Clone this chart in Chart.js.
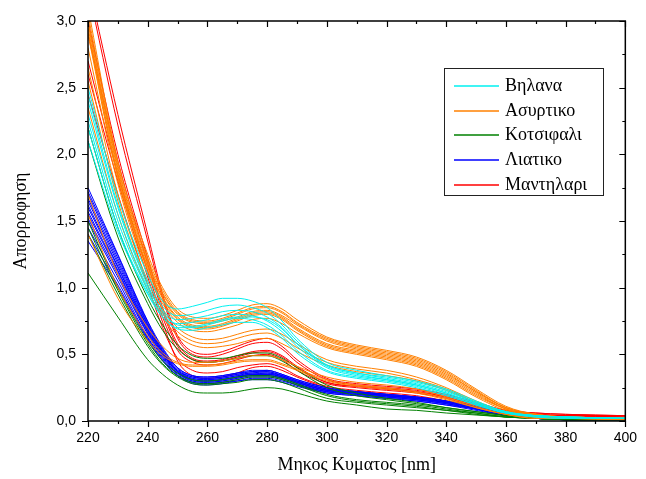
<!DOCTYPE html>
<html>
<head>
<meta charset="utf-8">
<script src="https://cdn.jsdelivr.net/npm/chart.js@4.4.0/dist/chart.umd.min.js"></script>
<style>
  html, body { margin: 0; padding: 0; background: #fff; }
  #wrap { width: 646px; height: 479px; }
</style>
</head>
<body>
<div id="wrap"><canvas id="myChart" width="646" height="479"></canvas></div>
<script>
// wavelengths (nm) where each spectrum was read
const wavelengths = [220,230,240,245,250,255,260,265,270,275,280,285,290,300,310,320,330,340,350,360,370,380,400];

// Vilana (cyan)
const vilana = [
  [2.50,1.68,1.10,0.90,0.84,0.86,0.89,0.92,0.92,0.90,0.85,0.75,0.62,0.44,0.38,0.34,0.30,0.24,0.15,0.07,0.04,0.03,0.02],
  [2.45,1.62,1.05,0.86,0.79,0.80,0.83,0.86,0.87,0.85,0.81,0.72,0.60,0.42,0.36,0.32,0.28,0.22,0.14,0.07,0.04,0.03,0.02],
  [2.30,1.55,1.00,0.83,0.76,0.77,0.79,0.82,0.83,0.82,0.78,0.70,0.58,0.41,0.35,0.31,0.27,0.21,0.13,0.06,0.04,0.03,0.02],
  [2.25,1.50,0.98,0.80,0.73,0.74,0.76,0.79,0.80,0.79,0.75,0.67,0.56,0.40,0.34,0.31,0.27,0.21,0.13,0.06,0.04,0.03,0.02],
  [2.10,1.42,0.95,0.78,0.70,0.70,0.72,0.75,0.77,0.76,0.72,0.64,0.53,0.38,0.33,0.30,0.26,0.20,0.12,0.06,0.03,0.02,0.02],
  [2.40,1.60,1.02,0.82,0.72,0.71,0.73,0.76,0.78,0.78,0.76,0.69,0.58,0.42,0.36,0.33,0.29,0.23,0.14,0.07,0.04,0.03,0.02],
  [2.20,1.45,0.96,0.78,0.69,0.68,0.70,0.72,0.74,0.74,0.70,0.62,0.51,0.37,0.32,0.29,0.25,0.19,0.12,0.06,0.03,0.02,0.02]
];

// Asyrtiko (orange)
const asyrtiko = [
  [3.10,1.95,1.25,1.00,0.84,0.78,0.77,0.79,0.83,0.87,0.88,0.84,0.76,0.63,0.57,0.53,0.48,0.38,0.24,0.11,0.05,0.03,0.02],
  [3.05,1.92,1.22,0.98,0.82,0.76,0.75,0.77,0.81,0.85,0.86,0.82,0.74,0.62,0.56,0.52,0.47,0.37,0.23,0.10,0.05,0.03,0.02],
  [3.00,1.90,1.20,0.96,0.81,0.75,0.74,0.76,0.80,0.84,0.85,0.81,0.73,0.61,0.55,0.51,0.46,0.36,0.22,0.10,0.05,0.03,0.02],
  [2.98,1.88,1.18,0.95,0.80,0.74,0.73,0.75,0.78,0.82,0.83,0.79,0.72,0.60,0.54,0.50,0.45,0.35,0.22,0.10,0.05,0.03,0.02],
  [2.95,1.85,1.16,0.93,0.78,0.72,0.71,0.73,0.77,0.81,0.82,0.78,0.70,0.58,0.53,0.49,0.44,0.34,0.21,0.09,0.04,0.03,0.02],
  [2.92,1.84,1.15,0.92,0.77,0.71,0.70,0.72,0.76,0.80,0.81,0.77,0.69,0.57,0.52,0.48,0.43,0.33,0.20,0.09,0.04,0.03,0.02],
  [2.90,1.82,1.13,0.90,0.76,0.70,0.69,0.71,0.75,0.79,0.80,0.76,0.68,0.56,0.51,0.47,0.42,0.32,0.19,0.09,0.04,0.03,0.02],
  [2.80,1.78,1.10,0.88,0.74,0.68,0.67,0.69,0.72,0.76,0.77,0.73,0.66,0.55,0.50,0.46,0.41,0.31,0.18,0.08,0.04,0.02,0.02],
  [2.65,1.70,1.05,0.84,0.70,0.63,0.61,0.62,0.65,0.68,0.69,0.65,0.58,0.46,0.41,0.38,0.33,0.25,0.15,0.07,0.03,0.02,0.02],
  [2.55,1.65,1.02,0.81,0.67,0.60,0.58,0.59,0.62,0.65,0.66,0.62,0.55,0.44,0.39,0.36,0.31,0.24,0.14,0.07,0.03,0.02,0.02],
  [2.35,1.55,0.98,0.78,0.64,0.57,0.55,0.56,0.58,0.61,0.62,0.58,0.52,0.42,0.37,0.34,0.30,0.23,0.14,0.06,0.03,0.02,0.02],
  [1.70,1.10,0.70,0.56,0.47,0.44,0.44,0.45,0.47,0.49,0.49,0.46,0.41,0.33,0.29,0.27,0.24,0.18,0.11,0.05,0.03,0.02,0.01],
  [1.55,1.00,0.64,0.51,0.44,0.42,0.42,0.43,0.45,0.46,0.46,0.43,0.39,0.31,0.27,0.25,0.22,0.17,0.10,0.05,0.02,0.02,0.01],
  [1.40,0.92,0.60,0.49,0.43,0.41,0.41,0.42,0.44,0.45,0.45,0.42,0.38,0.30,0.26,0.24,0.21,0.16,0.10,0.05,0.02,0.02,0.01]
];

// Kotsifali (green)
const kotsifali = [
  [1.11,0.78,0.46,0.35,0.27,0.22,0.21,0.21,0.22,0.24,0.25,0.24,0.21,0.15,0.12,0.09,0.08,0.06,0.045,0.03,0.02,0.01,0.01],
  [1.45,0.98,0.58,0.43,0.34,0.29,0.28,0.29,0.31,0.33,0.33,0.31,0.27,0.19,0.15,0.13,0.11,0.08,0.06,0.03,0.02,0.01,0.01],
  [1.50,1.00,0.60,0.45,0.36,0.31,0.30,0.31,0.33,0.34,0.34,0.32,0.28,0.20,0.16,0.14,0.12,0.09,0.06,0.03,0.02,0.01,0.01],
  [2.20,1.45,0.92,0.72,0.57,0.49,0.47,0.47,0.49,0.51,0.51,0.47,0.40,0.27,0.21,0.17,0.14,0.10,0.07,0.04,0.02,0.01,0.01],
  [2.10,1.38,0.88,0.68,0.54,0.46,0.44,0.45,0.47,0.49,0.49,0.45,0.38,0.25,0.19,0.16,0.13,0.10,0.07,0.04,0.02,0.01,0.01],
  [1.40,0.95,0.56,0.42,0.33,0.28,0.27,0.28,0.29,0.31,0.31,0.29,0.25,0.17,0.14,0.12,0.10,0.08,0.05,0.03,0.02,0.01,0.01]
];

// Liatiko (blue)
const liatiko = [
  [1.75,1.25,0.75,0.55,0.40,0.34,0.33,0.34,0.36,0.38,0.38,0.35,0.31,0.25,0.22,0.20,0.18,0.15,0.11,0.05,0.03,0.02,0.01],
  [1.72,1.24,0.74,0.54,0.40,0.34,0.33,0.34,0.36,0.37,0.38,0.35,0.31,0.25,0.22,0.20,0.18,0.15,0.11,0.05,0.03,0.02,0.01],
  [1.70,1.22,0.73,0.53,0.39,0.33,0.32,0.33,0.35,0.37,0.37,0.34,0.30,0.24,0.22,0.20,0.18,0.15,0.10,0.05,0.03,0.02,0.01],
  [1.67,1.20,0.72,0.52,0.38,0.33,0.32,0.33,0.35,0.36,0.37,0.34,0.30,0.24,0.21,0.19,0.17,0.14,0.10,0.05,0.03,0.02,0.01],
  [1.65,1.18,0.71,0.52,0.38,0.32,0.31,0.32,0.34,0.36,0.36,0.34,0.30,0.24,0.21,0.19,0.17,0.14,0.10,0.05,0.03,0.02,0.01],
  [1.62,1.16,0.70,0.51,0.37,0.32,0.31,0.32,0.34,0.35,0.36,0.33,0.29,0.23,0.21,0.19,0.17,0.14,0.10,0.05,0.02,0.02,0.01],
  [1.60,1.15,0.69,0.51,0.37,0.31,0.30,0.31,0.33,0.35,0.35,0.33,0.29,0.23,0.21,0.19,0.17,0.14,0.10,0.05,0.02,0.02,0.01],
  [1.57,1.13,0.68,0.50,0.37,0.31,0.30,0.31,0.33,0.35,0.35,0.33,0.29,0.23,0.21,0.19,0.17,0.14,0.10,0.05,0.02,0.01,0.01],
  [1.55,1.12,0.67,0.50,0.37,0.31,0.30,0.31,0.33,0.35,0.35,0.33,0.29,0.23,0.21,0.19,0.17,0.14,0.10,0.05,0.02,0.01,0.01],
  [1.52,1.10,0.66,0.49,0.36,0.30,0.29,0.30,0.32,0.34,0.34,0.32,0.28,0.22,0.20,0.18,0.16,0.13,0.09,0.04,0.02,0.01,0.01],
  [1.50,1.08,0.65,0.48,0.36,0.30,0.29,0.30,0.32,0.34,0.34,0.32,0.28,0.22,0.20,0.18,0.16,0.13,0.09,0.04,0.02,0.01,0.01],
  [1.45,1.05,0.63,0.47,0.35,0.29,0.28,0.29,0.31,0.33,0.33,0.31,0.27,0.22,0.20,0.18,0.16,0.13,0.09,0.04,0.02,0.01,0.01],
  [1.40,1.02,0.62,0.46,0.34,0.29,0.28,0.29,0.30,0.32,0.32,0.30,0.27,0.21,0.19,0.17,0.15,0.12,0.09,0.04,0.02,0.01,0.01],
  [1.35,1.00,0.61,0.45,0.34,0.28,0.27,0.28,0.30,0.31,0.31,0.29,0.26,0.21,0.19,0.17,0.15,0.12,0.08,0.04,0.02,0.01,0.01]
];

// Mantilari (red)
const mantilari = [
  [3.30,2.30,1.40,0.95,0.64,0.52,0.50,0.52,0.56,0.60,0.62,0.56,0.46,0.32,0.28,0.26,0.24,0.20,0.14,0.08,0.06,0.05,0.04],
  [3.25,2.22,1.35,0.92,0.62,0.50,0.48,0.50,0.54,0.58,0.59,0.54,0.44,0.31,0.27,0.25,0.23,0.19,0.13,0.08,0.06,0.05,0.04],
  [3.00,2.00,1.22,0.85,0.58,0.47,0.45,0.46,0.49,0.52,0.53,0.49,0.41,0.29,0.26,0.24,0.22,0.18,0.12,0.07,0.05,0.04,0.04],
  [2.90,1.95,1.18,0.82,0.56,0.46,0.44,0.45,0.48,0.51,0.52,0.48,0.40,0.29,0.26,0.24,0.22,0.18,0.12,0.07,0.05,0.04,0.04],
  [2.70,1.85,1.12,0.78,0.53,0.44,0.42,0.43,0.46,0.49,0.50,0.46,0.38,0.28,0.25,0.23,0.21,0.17,0.11,0.07,0.05,0.04,0.03],
  [2.45,1.70,1.02,0.70,0.47,0.38,0.36,0.37,0.40,0.42,0.43,0.40,0.34,0.26,0.23,0.21,0.19,0.15,0.10,0.06,0.04,0.04,0.03],
  [2.60,1.80,1.08,0.74,0.45,0.34,0.32,0.33,0.36,0.40,0.41,0.38,0.33,0.25,0.22,0.20,0.18,0.15,0.10,0.06,0.04,0.04,0.03]
];

// legend names and colours
const names = ['Βηλανα', 'Ασυρτικο', 'Κοτσιφαλι', 'Λιατικο', 'Μαντηλαρι'];
const colors = ['#00f0f0', '#ff8000', '#008000', '#0000ff', '#ff0000'];
const groups = [vilana, asyrtiko, kotsifali, liatiko, mantilari];

// x ticks labelled every 20 nm, y ticks every 0,5
const xTicks = [220, 240, 260, 280, 300, 320, 340, 360, 380, 400];
const yTicks = [0, 0.5, 1.0, 1.5, 2.0, 2.5, 3.0];

// build the datasets, one per spectrum
const datasets = [];
groups.forEach((g, gi) => {
  g.forEach((spec) => {
    datasets.push({
      label: names[gi],
      data: spec.map((v, i) => ({ x: wavelengths[i], y: v })),
      borderColor: colors[gi],
      borderWidth: 1,
      pointRadius: 0,
      fill: false,
      cubicInterpolationMode: 'monotone'
    });
  });
});

// frame, tick marks and legend box
const framePlugin = {
  id: 'frame',
  afterDraw(chart) {
    const ctx = chart.ctx;
    const a = chart.chartArea;
    const xs = chart.scales.x;
    const ys = chart.scales.y;
    ctx.save();
    ctx.strokeStyle = '#000';
    ctx.lineWidth = 1.5;
    ctx.strokeRect(a.left, a.top, a.right - a.left, a.bottom - a.top);

    ctx.lineWidth = 1.2;
    ctx.beginPath();
    for (let v = 220; v <= 400; v += 10) {
      const px = Math.round(xs.getPixelForValue(v)) + 0.5;
      const len = v % 20 === 0 ? 6 : 3;
      ctx.moveTo(px, a.bottom); ctx.lineTo(px, a.bottom + len);
      ctx.moveTo(px, a.top); ctx.lineTo(px, a.top + len);
    }
    for (let k = 0; k <= 12; k++) {
      const v = k * 0.25;
      const py = Math.round(ys.getPixelForValue(v)) + 0.5;
      const len = k % 2 === 0 ? 6 : 3;
      ctx.moveTo(a.left, py); ctx.lineTo(a.left - len, py);
      ctx.moveTo(a.right, py); ctx.lineTo(a.right - len, py);
    }
    ctx.stroke();

    // legend
    const lx = 444, ly = 68, lw = 159, lh = 127;
    ctx.fillStyle = '#fff';
    ctx.fillRect(lx, ly, lw, lh);
    ctx.lineWidth = 1;
    ctx.strokeStyle = '#222';
    ctx.strokeRect(lx + 0.5, ly + 0.5, lw, lh);
    ctx.font = '18px "Liberation Serif", serif';
    ctx.textBaseline = 'middle';
    for (let i = 0; i < names.length; i++) {
      const y = Math.round(ly + 18 + i * 24.7);
      ctx.beginPath();
      ctx.strokeStyle = colors[i];
      ctx.lineWidth = 1.5;
      ctx.moveTo(454, y);
      ctx.lineTo(499, y);
      ctx.stroke();
      ctx.fillStyle = '#000';
      ctx.fillText(names[i], 505, y);
    }
    ctx.restore();
  }
};

const ctx = document.getElementById('myChart').getContext('2d');
const myChart = new Chart(ctx, {
  type: 'line',
  data: { datasets: datasets },
  options: {
    responsive: false,
    animation: false,
    layout: { padding: { left: 0, right: 12, top: 21, bottom: 0 } },
    plugins: {
      legend: { display: false },
      tooltip: { enabled: false }
    },
    scales: {
      x: {
        type: 'linear',
        min: 220,
        max: 400,
        afterBuildTicks: (s) => { s.ticks = xTicks.map(v => ({ value: v })); },
        afterFit: (s) => { s.height = 58; },
        grid: { display: false, drawTicks: false },
        border: { display: false },
        ticks: {
          color: '#000',
          padding: 9,
          maxRotation: 0,
          font: { family: '"Liberation Sans", Arial, sans-serif', size: 14 }
        },
        title: {
          display: true,
          text: 'Μηκος Κυματος [nm]',
          color: '#000',
          padding: { top: 0, bottom: 3 },
          font: { family: '"Liberation Serif", serif', size: 18 }
        }
      },
      y: {
        min: 0,
        max: 3,
        afterBuildTicks: (s) => { s.ticks = yTicks.map(v => ({ value: v })); },
        afterFit: (s) => { s.width = 88; },
        grid: { display: false, drawTicks: false },
        border: { display: false },
        ticks: {
          color: '#000',
          padding: 12,
          font: { family: '"Liberation Sans", Arial, sans-serif', size: 14 },
          callback: (v) => v.toFixed(1).replace('.', ',')
        },
        title: {
          display: true,
          text: 'Απορροφηση',
          color: '#000',
          padding: { top: 10, bottom: 0 },
          font: { family: '"Liberation Serif", serif', size: 18 }
        }
      }
    }
  },
  plugins: [framePlugin]
});
</script>
</body>
</html>
